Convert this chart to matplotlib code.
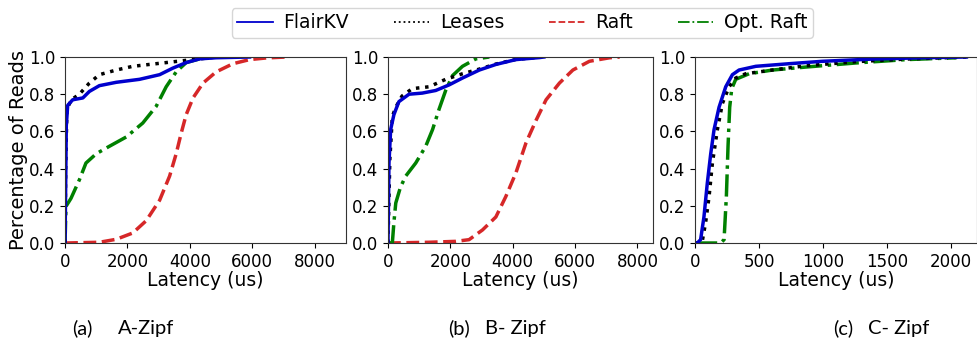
import matplotlib
matplotlib.use("Agg")
import matplotlib.pyplot as plt

# Latency CDFs (us, fraction of reads) for the three workloads
# --- A-Zipf ---
a_flair_x = [0, 20, 40, 85, 245, 570, 780, 1100, 1640, 2385, 3030, 3450, 3880, 4310, 4840, 5910]
a_flair_y = [0, 0.30, 0.63, 0.74, 0.77, 0.78, 0.815, 0.846, 0.864, 0.88, 0.905, 0.94, 0.97, 0.99, 0.996, 1.0]
a_lease_x = [0, 20, 60, 200, 460, 780, 1100, 1640, 2170, 2700, 3240, 3770, 4310, 4840]
a_lease_y = [0, 0.40, 0.72, 0.77, 0.80, 0.86, 0.905, 0.93, 0.95, 0.96, 0.97, 0.98, 0.99, 1.0]
a_raft_x = [0, 1100, 1640, 2170, 2600, 3030, 3350, 3560, 3720, 3880, 4100, 4420, 4840, 5380, 5910, 6450, 7090]
a_raft_y = [0, 0.004, 0.02, 0.054, 0.12, 0.23, 0.36, 0.48, 0.59, 0.69, 0.78, 0.86, 0.92, 0.964, 0.986, 0.995, 1.0]
a_opt_x = [0, 30, 190, 460, 670, 1000, 1420, 1960, 2490, 2920, 3240, 3560, 3880, 4310, 4840]
a_opt_y = [0, 0.197, 0.24, 0.34, 0.43, 0.48, 0.52, 0.57, 0.645, 0.735, 0.84, 0.92, 0.97, 0.99, 1.0]

# --- B-Zipf ---
b_flair_x = [0, 32, 86, 190, 350, 675, 1100, 1530, 1960, 2390, 2930, 3460, 4100, 4860, 5000]
b_flair_y = [0, 0.43, 0.61, 0.69, 0.76, 0.80, 0.806, 0.82, 0.85, 0.887, 0.93, 0.96, 0.986, 0.997, 1.0]
b_lease_x = [0, 60, 140, 250, 450, 780, 1320, 1850, 2390, 2930, 3460, 4100, 4900]
b_lease_y = [0, 0.45, 0.68, 0.73, 0.79, 0.83, 0.84, 0.88, 0.91, 0.935, 0.962, 0.987, 1.0]
b_raft_x = [0, 1320, 2180, 2600, 3030, 3460, 3780, 4100, 4430, 4750, 5070, 5500, 5930, 6460, 7110, 7430]
b_raft_y = [0, 0.004, 0.009, 0.018, 0.07, 0.14, 0.25, 0.376, 0.54, 0.66, 0.77, 0.86, 0.93, 0.977, 0.996, 1.0]
b_opt_x = [0, 140, 190, 250, 400, 570, 890, 1210, 1430, 1640, 1850, 2070, 2390, 2820, 3250]
b_opt_y = [0, 0, 0.11, 0.215, 0.30, 0.36, 0.43, 0.52, 0.61, 0.72, 0.82, 0.90, 0.95, 0.99, 1.0]

# --- C-Zipf ---
c_flair_x = [0, 18, 44, 70, 96, 123, 149, 188, 240, 292, 344, 475, 735, 996, 1387, 1779, 2118]
c_flair_y = [0, 0, 0.018, 0.14, 0.32, 0.48, 0.61, 0.73, 0.84, 0.905, 0.93, 0.95, 0.964, 0.977, 0.989, 0.996, 1.0]
c_lease_x = [0, 31, 57, 83, 110, 136, 175, 214, 266, 318, 396, 605, 866, 1257, 1648, 2118]
c_lease_y = [0, 0, 0.01, 0.11, 0.25, 0.43, 0.61, 0.75, 0.84, 0.887, 0.91, 0.93, 0.953, 0.975, 0.989, 1.0]
c_opt_x = [0, 200, 227, 245, 258, 271, 287, 318, 422, 605, 866, 1257, 1648, 2040]
c_opt_y = [0, 0, 0.018, 0.25, 0.52, 0.73, 0.83, 0.88, 0.91, 0.93, 0.946, 0.968, 0.986, 0.996]

panels = [
    dict(flair=(a_flair_x, a_flair_y), lease=(a_lease_x, a_lease_y),
         raft=(a_raft_x, a_raft_y), opt=(a_opt_x, a_opt_y),
         xlim=9000, xticks=[0, 2000, 4000, 6000, 8000], tag="(a)", name="A-Zipf"),
    dict(flair=(b_flair_x, b_flair_y), lease=(b_lease_x, b_lease_y),
         raft=(b_raft_x, b_raft_y), opt=(b_opt_x, b_opt_y),
         xlim=8500, xticks=[0, 2000, 4000, 6000, 8000], tag="(b)", name="B- Zipf"),
    dict(flair=(c_flair_x, c_flair_y), lease=(c_lease_x, c_lease_y),
         raft=None, opt=(c_opt_x, c_opt_y),
         xlim=2200, xticks=[0, 500, 1000, 1500, 2000], tag="(c)", name="C- Zipf"),
]

styles = {
    "flair": dict(color="mediumblue", ls="-", label="FlairKV"),
    "lease": dict(color="black", ls=":", label="Leases"),
    "raft": dict(color="#d62728", ls="--", label="Raft"),
    "opt": dict(color="green", ls="-.", label="Opt. Raft"),
}

plt.rcParams["font.family"] = "DejaVu Sans"
W, H = 978, 343
fig = plt.figure(figsize=(W / 100, H / 100), dpi=100)

# axes boxes in figure fractions
boxes = [
    [0.0665, 0.2915, 0.2873, 0.5423],
    [0.3967, 0.2915, 0.2710, 0.5423],
    [0.7106, 0.2915, 0.2883, 0.5423],
]
# caption pixel positions: (tag x, name x)
caption_px = [(72, 118), (448, 485), (833, 868)]

handles = {}
for i, (p, box) in enumerate(zip(panels, boxes)):
    ax = fig.add_axes(box)
    for key in ["raft", "opt", "lease", "flair"]:
        if p[key] is None:
            continue
        xs, ys = p[key]
        st = styles[key]
        line, = ax.plot(xs, ys, color=st["color"], ls=st["ls"], lw=2.5, label=st["label"])
        handles[key] = line
    ax.set_xlim(0, p["xlim"])
    ax.set_ylim(0, 1.0)
    ax.set_xticks(p["xticks"])
    ax.set_yticks([0, 0.2, 0.4, 0.6, 0.8, 1.0])
    ax.tick_params(labelsize=12, length=3.5)
    ax.set_xlabel("Latency (us)", fontsize=13.5, labelpad=0)
    if i == 0:
        ax.set_ylabel("Percentage of Reads", fontsize=14, labelpad=1)
    for sp in ax.spines.values():
        sp.set_color("#333333")
        sp.set_linewidth(0.8)
    tx, nx = caption_px[i]
    fig.text(tx / W, 1 - 334 / H, p["tag"], fontsize=14.5, family="Lato",
             ha="left", va="baseline")
    fig.text(nx / W, 1 - 334 / H, p["name"], fontsize=14.5, family="Lato",
             ha="left", va="baseline")

order = ["flair", "lease", "raft", "opt"]
leg = fig.legend([handles[k] for k in order], [styles[k]["label"] for k in order],
                 loc="center", bbox_to_anchor=(0.534, 0.933), ncol=4, fontsize=13.5,
                 handlelength=1.9, columnspacing=2.4, frameon=True, borderpad=0.3,
                 handletextpad=0.55)
for lh in leg.get_lines():
    lh.set_linewidth(1.3)

fig.savefig("out.png", dpi=100)
